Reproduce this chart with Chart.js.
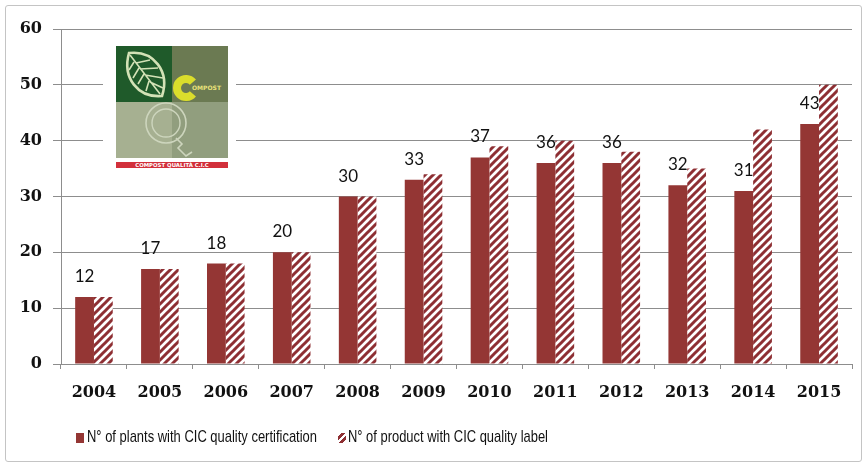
<!DOCTYPE html>
<html>
<head>
<meta charset="utf-8">
<script src="https://cdn.jsdelivr.net/npm/chart.js@4/dist/chart.umd.min.js"></script>
<style>
  html, body { margin: 0; padding: 0; background: #fff; }
  #wrap { position: relative; width: 867px; height: 467px; overflow: hidden; }
  #frame { position: absolute; left: 5px; top: 5px; width: 855px; height: 455px; border: 1.5px solid #c4c4c4; border-radius: 3px; pointer-events: none; }
  #logoBox { position: absolute; left: 103px; top: 38px; width: 133px; height: 136px; background: #fff; }
  #logo { position: absolute; left: 13px; top: 8px; }
  .lg-item { position: absolute; top: 429px; font-family: "Liberation Sans", Arial, sans-serif; font-size: 17px; line-height: 16px; color: #111; white-space: nowrap; transform-origin: 0 0; }
  .lg-mark { position: absolute; top: 433px; width: 8px; height: 10px; }
</style>
</head>
<body>
<div id="wrap">
  <canvas id="c" width="867" height="467"></canvas>
  <div id="logoBox">
    <svg id="logo" width="112" height="122" viewBox="0 0 112 122">
      <rect x="0" y="0" width="56" height="56" fill="#1f5a2a"/>
      <rect x="56" y="0" width="56" height="56" fill="#6b7a52"/>
      <rect x="0" y="56" width="56" height="56" fill="#a6b091"/>
      <rect x="56" y="56" width="56" height="56" fill="#919e7e"/>
      <path d="M13 7 C38 4 54 26 46 50 C22 52 6 32 13 7 Z" fill="none" stroke="#d3e2b6" stroke-width="2.6"/>
      <path d="M14 9 L44 48 M20 17 L34 14 M24 23 L42 22 M29 29 L47 32 M34 36 L47 42 M18 16 L13 24 M23 22 L17 32 M28 28 L22 38 M33 35 L30 45" stroke="#d3e2b6" stroke-width="1.6" fill="none"/>
      <path d="M76.9 36.2 A9 9 0 1 0 76.9 47.8" fill="none" stroke="#dadd2c" stroke-width="8"/>
      <text x="76" y="44" font-family="DejaVu Sans, sans-serif" font-size="6" font-weight="bold" fill="#e9e27a">OMPOST</text>
      <circle cx="50" cy="77" r="20" fill="none" stroke="#cdd5bd" stroke-width="1.6"/>
      <circle cx="50" cy="77" r="14" fill="none" stroke="#cdd5bd" stroke-width="1.4"/>
      <path d="M60 92 L66 98 L62 102 L70 110 L76 106" fill="none" stroke="#cdd5bd" stroke-width="1.6"/>
      <rect x="0" y="116" width="112" height="6" fill="#d2303b"/>
      <text x="56" y="121" text-anchor="middle" font-family="DejaVu Sans, sans-serif" font-size="5.4" font-weight="bold" fill="#fff">COMPOST QUALITÀ C.I.C</text>
    </svg>
  </div>
  <div id="frame"></div>
</div>
<script>
const years = ['2004','2005','2006','2007','2008','2009','2010','2011','2012','2013','2014','2015'];
const plantsCertified = [12, 17, 18, 20, 30, 33, 37, 36, 36, 32, 31, 43];
const productsLabelled = [12, 17, 18, 20, 30, 34, 39, 40, 38, 35, 42, 50];
const seriesNames = ['N° of plants with CIC quality certification', 'N° of product with CIC quality label'];
const yMin = 0, yMax = 60, yStep = 10;

const solidColor = '#943634';
const stripeColor = '#8e2f33';

function hatchPattern() {
  const c = document.createElement('canvas');
  c.width = 8; c.height = 8;
  const g = c.getContext('2d');
  g.fillStyle = '#ffffff';
  g.fillRect(0, 0, 8, 8);
  g.strokeStyle = stripeColor;
  g.lineWidth = 3;
  g.beginPath();
  g.moveTo(-2, 10); g.lineTo(10, -2);
  g.moveTo(-2, 2); g.lineTo(2, -2);
  g.moveTo(6, 10); g.lineTo(10, 6);
  g.stroke();
  const main = document.getElementById('c').getContext('2d');
  return main.createPattern(c, 'repeat');
}

const valueLabels = {
  id: 'valueLabels',
  afterDatasetsDraw(chart) {
    const ctx = chart.ctx;
    const meta = chart.getDatasetMeta(0);
    ctx.save();
    ctx.font = '17px Lato, "Liberation Sans", sans-serif';
    ctx.fillStyle = '#111';
    ctx.textAlign = 'center';
    ctx.textBaseline = 'alphabetic';
    meta.data.forEach((bar, i) => {
      ctx.fillText(String(chart.data.datasets[0].data[i]), bar.x, bar.y - 15);
    });
    ctx.restore();
  }
};

const gridGray = '#8d8d8d';

const chart = new Chart(document.getElementById('c'), {
  type: 'bar',
  data: {
    labels: years,
    datasets: [
      { label: seriesNames[0], data: plantsCertified, backgroundColor: solidColor, borderWidth: 0,
        categoryPercentage: 0.57, barPercentage: 1.0 },
      { label: seriesNames[1], data: productsLabelled, backgroundColor: hatchPattern(), borderWidth: 0,
        categoryPercentage: 0.57, barPercentage: 1.0 }
    ]
  },
  options: {
    responsive: false,
    devicePixelRatio: 1,
    animation: false,
    layout: { padding: { left: 0, top: 29, right: 15, bottom: 63 } },
    plugins: { legend: { display: false }, tooltip: { enabled: false } },
    scales: {
      x: {
        grid: { display: true, drawOnChartArea: false, drawTicks: true, tickLength: 5, color: gridGray, offset: true },
        border: { display: true, color: gridGray, width: 1 },
        ticks: { color: '#111', font: { family: '"DejaVu Serif", serif', size: 16, weight: 'bold' }, padding: 14, maxRotation: 0 },
        afterFit(scale) { scale.height = 40; }
      },
      y: {
        min: yMin, max: yMax,
        grid: { display: true, drawTicks: true, tickLength: 8, color: gridGray },
        border: { display: true, color: gridGray, width: 1 },
        ticks: { stepSize: yStep, color: '#111', font: { family: '"DejaVu Serif", serif', size: 16, weight: 'bold' }, padding: 11 },
        afterFit(scale) { scale.width = 61; }
      }
    }
  },
  plugins: [valueLabels]
});

// Legend built from the series names
(function buildLegend() {
  const wrap = document.getElementById('wrap');
  const frame = document.getElementById('frame');
  const items = [
    { name: seriesNames[0], markLeft: 76, textLeft: 87, width: 230, bg: solidColor },
    { name: seriesNames[1], markLeft: 338, textLeft: 348, width: 200,
      bg: 'repeating-linear-gradient(-45deg, #ffffff 0px, #ffffff 2.5px, ' + stripeColor + ' 2.5px, ' + stripeColor + ' 5px)' }
  ];
  items.forEach(it => {
    const m = document.createElement('div');
    m.className = 'lg-mark';
    m.style.left = it.markLeft + 'px';
    m.style.background = it.bg;
    wrap.insertBefore(m, frame);
    const t = document.createElement('div');
    t.className = 'lg-item';
    t.style.left = it.textLeft + 'px';
    t.textContent = it.name;
    wrap.insertBefore(t, frame);
    const w = t.getBoundingClientRect().width;
    if (w > 0) t.style.transform = 'scaleX(' + (it.width / w).toFixed(4) + ')';
  });
})();
</script>
</body>
</html>
